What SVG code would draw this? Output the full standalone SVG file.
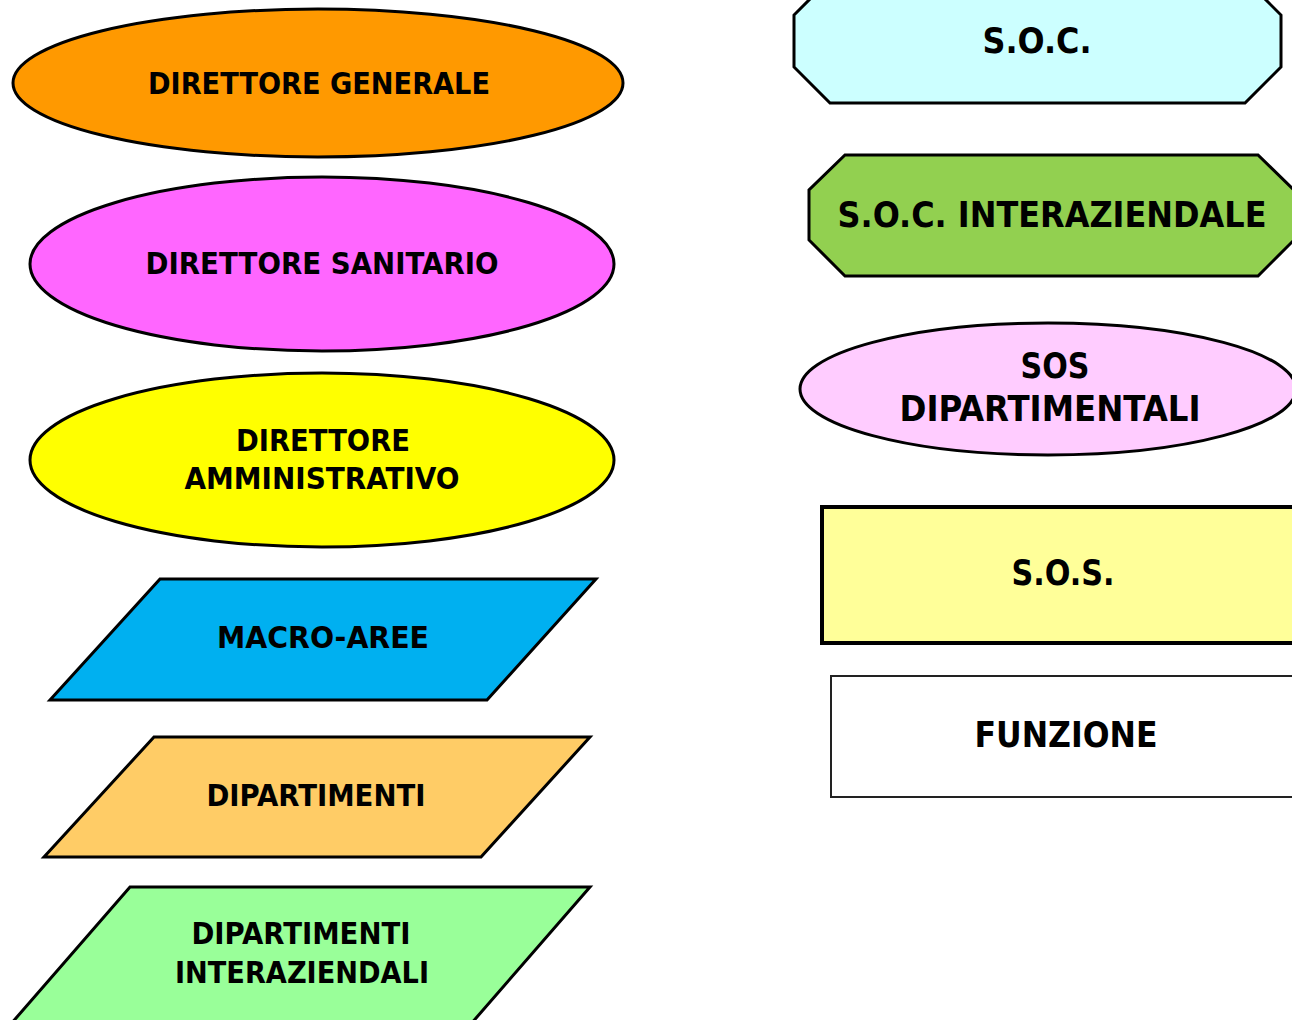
<svg xmlns="http://www.w3.org/2000/svg" width="1292" height="1020" viewBox="0 0 1292 1020">
<style>
.s{stroke:#000;stroke-width:3;stroke-linejoin:miter}
.t{font-family:"DejaVu Sans Condensed","DejaVu Sans","Liberation Sans",sans-serif;font-weight:bold;fill:#000;text-anchor:middle}
.l{font-size:30px}
.r{font-size:36px}
</style>
<rect width="1292" height="1020" fill="#fff"/>
<g id="direttore-generale">
<ellipse class="s" cx="318" cy="83" rx="305" ry="74" fill="#ff9900"/>
<text class="t l" x="319" y="94" textLength="342" lengthAdjust="spacingAndGlyphs">DIRETTORE GENERALE</text>
</g>
<g id="direttore-sanitario">
<ellipse class="s" cx="322" cy="264" rx="292" ry="87" fill="#ff66ff"/>
<text class="t l" x="322" y="274" textLength="353" lengthAdjust="spacingAndGlyphs">DIRETTORE SANITARIO</text>
</g>
<g id="direttore-amministrativo">
<ellipse class="s" cx="322" cy="460" rx="292" ry="87" fill="#ffff00"/>
<text class="t l" x="323" y="451" textLength="174" lengthAdjust="spacingAndGlyphs">DIRETTORE</text>
<text class="t l" x="322" y="489" textLength="275" lengthAdjust="spacingAndGlyphs">AMMINISTRATIVO</text>
</g>
<g id="macro-aree">
<polygon class="s" points="160,579 596,579 487,700 50,700" fill="#00b0f0"/>
<text class="t l" x="323" y="648" textLength="212" lengthAdjust="spacingAndGlyphs">MACRO-AREE</text>
</g>
<g id="dipartimenti">
<polygon class="s" points="154,737 590,737 481,857 44,857" fill="#ffcc66"/>
<text class="t l" x="316" y="806" textLength="219" lengthAdjust="spacingAndGlyphs">DIPARTIMENTI</text>
</g>
<g id="dipartimenti-interaziendali">
<polygon class="s" points="130,887 590,887 470,1025 10,1025" fill="#99ff99"/>
<text class="t l" x="301" y="944" textLength="219" lengthAdjust="spacingAndGlyphs">DIPARTIMENTI</text>
<text class="t l" x="302" y="983" textLength="254" lengthAdjust="spacingAndGlyphs">INTERAZIENDALI</text>
</g>
<g id="soc">
<polygon class="s" points="830,-21 1245,-21 1281,15 1281,67 1245,103 830,103 794,67 794,15" fill="#ccffff"/>
<text class="t r" x="1037" y="53" textLength="109" lengthAdjust="spacingAndGlyphs">S.O.C.</text>
</g>
<g id="soc-interaziendale">
<polygon class="s" points="845,155 1258,155 1294,190 1294,240 1258,276 845,276 809,240 809,190" fill="#92d050"/>
<text class="t r" x="1052" y="227" textLength="429" lengthAdjust="spacingAndGlyphs">S.O.C. INTERAZIENDALE</text>
</g>
<g id="sos-dipartimentali">
<ellipse class="s" cx="1048" cy="389" rx="248" ry="66" fill="#ffccff"/>
<text class="t r" x="1055" y="378" textLength="69" lengthAdjust="spacingAndGlyphs">SOS</text>
<text class="t r" x="1050" y="421" textLength="301" lengthAdjust="spacingAndGlyphs">DIPARTIMENTALI</text>
</g>
<g id="sos">
<rect x="822" y="507" width="480" height="136" fill="#ffff99" stroke="#000" stroke-width="4"/>
<text class="t r" x="1063" y="585" textLength="103" lengthAdjust="spacingAndGlyphs">S.O.S.</text>
</g>
<g id="funzione">
<rect x="831" y="676" width="470" height="121" fill="#fff" stroke="#222" stroke-width="2"/>
<text class="t r" x="1066" y="747" textLength="183" lengthAdjust="spacingAndGlyphs">FUNZIONE</text>
</g>
<g id="connectors"/>
</svg>
